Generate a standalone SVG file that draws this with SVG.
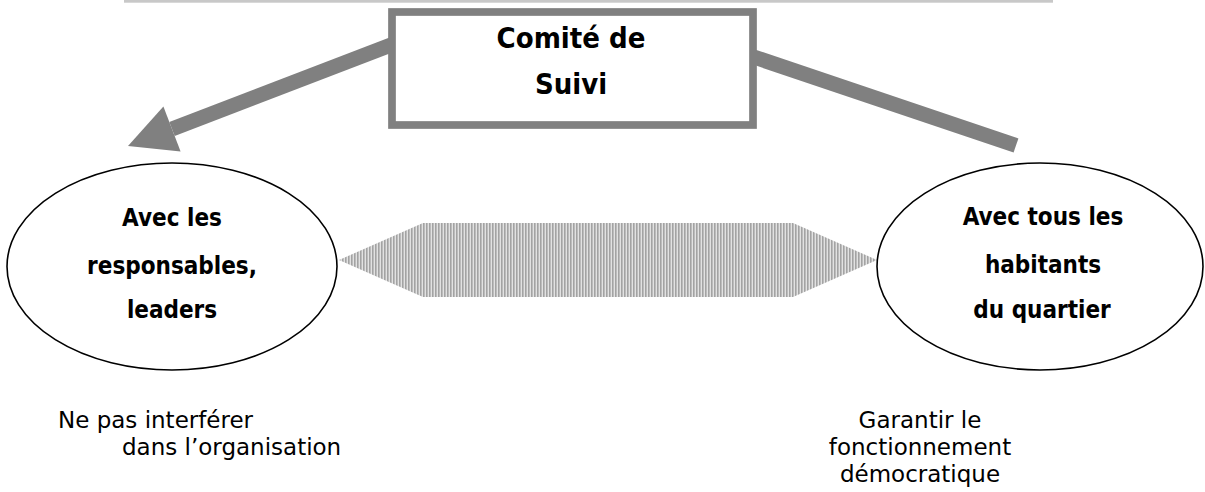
<svg xmlns="http://www.w3.org/2000/svg" width="1205" height="492" viewBox="0 0 1205 492">
<style>
.bold{font-family:"DejaVu Sans","Liberation Sans",sans-serif;font-weight:bold;font-stretch:condensed;fill:#000;text-anchor:middle}
.box-t{font-size:29px}
.ell-t{font-size:24px}
.note{font-family:"DejaVu Sans","Liberation Sans",sans-serif;font-size:23px;fill:#000}
.ell{fill:#fff;stroke:#000;stroke-width:1.6}
.conn{stroke:#808080;stroke-width:15;fill:none;stroke-linecap:butt}
</style>
<defs>
<pattern id="stripes" patternUnits="userSpaceOnUse" width="3" height="10">
<rect x="0" y="0" width="3" height="10" fill="#e2e2e2"/>
<rect x="0" y="0" width="1.6" height="10" fill="#a3a3a3"/>
</pattern>
</defs>
<rect x="0" y="0" width="1205" height="492" fill="#fff"/>
<rect id="topline" x="124" y="0" width="929" height="2.7" fill="#c8c8c8"/>
<g id="connectors">
<line class="conn" x1="400" y1="41.4" x2="172" y2="129"/>
<polygon points="128,146 163.4,106.6 180.6,151.4" fill="#808080"/>
<line class="conn" x1="745" y1="54" x2="1016" y2="145.5"/>
<polygon id="link" points="339,260 423,223 793,223 877,260 793,297 423,297" fill="url(#stripes)"/>
</g>
<g id="comite">
<rect x="392" y="12" width="361" height="113" fill="#fff" stroke="#808080" stroke-width="7.7"/>
<text class="bold box-t" x="571" y="48">Comité de</text>
<text class="bold box-t" x="571" y="94">Suivi</text>
</g>
<g id="responsables">
<ellipse class="ell" cx="172" cy="266.5" rx="165" ry="103.5"/>
<text class="bold ell-t" x="172" y="226">Avec les</text>
<text class="bold ell-t" x="172" y="274">responsables,</text>
<text class="bold ell-t" x="172" y="318">leaders</text>
</g>
<g id="habitants">
<ellipse class="ell" cx="1040" cy="266.5" rx="163" ry="103.5"/>
<text class="bold ell-t" x="1043" y="225">Avec tous les</text>
<text class="bold ell-t" x="1043" y="273">habitants</text>
<text class="bold ell-t" x="1042" y="318">du quartier</text>
</g>
<g id="note-left">
<text class="note" x="58" y="428">Ne pas interférer</text>
<text class="note" x="122" y="455">dans l’organisation</text>
</g>
<g id="note-right">
<text class="note" x="920" y="428" text-anchor="middle">Garantir le</text>
<text class="note" x="920" y="455" text-anchor="middle">fonctionnement</text>
<text class="note" x="920" y="482" text-anchor="middle">démocratique</text>
</g>
</svg>
